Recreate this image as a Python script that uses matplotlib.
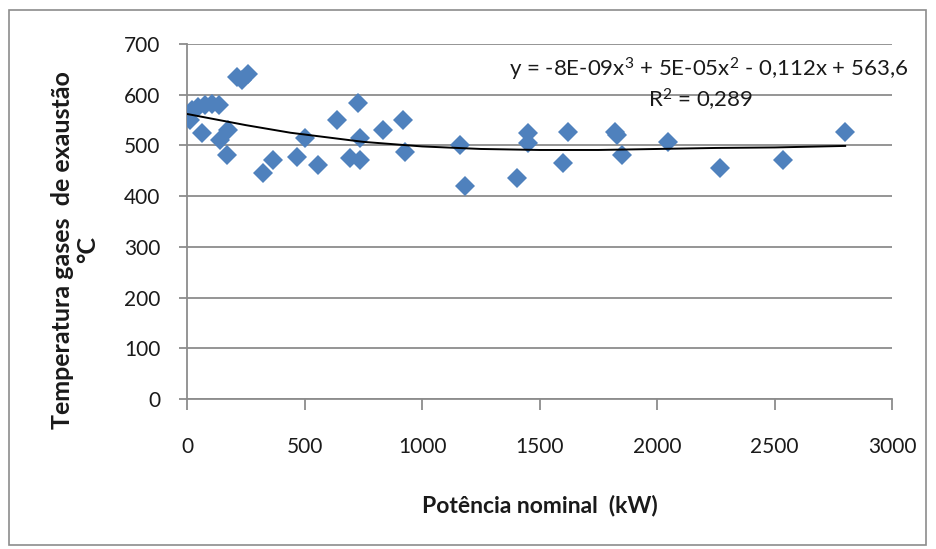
import matplotlib.pyplot as plt
from matplotlib.patches import Rectangle

plt.rcParams['font.family'] = ['Lato', 'DejaVu Sans']
plt.rcParams['mathtext.fontset'] = 'custom'
plt.rcParams['mathtext.rm'] = 'Lato'
plt.rcParams['mathtext.default'] = 'regular'

# potencia nominal (kW) e temperatura dos gases (C)
potencia = [13, 20, 45, 75, 105, 135, 62, 140, 169, 175, 211, 234, 261,
            324, 367, 467, 502, 557, 637, 694, 728, 736, 736, 834, 919, 928,
            1162, 1183, 1403, 1451, 1451, 1600, 1622, 1821, 1830, 1850, 2047,
            2268, 2536, 2800]
temperatura = [550, 570, 575, 580, 582, 580, 524, 511, 481, 530, 635, 628, 640,
               446, 471, 478, 515, 461, 550, 475, 584, 515, 471, 530, 550, 487,
               501, 420, 436, 524, 505, 465, 527, 527, 520, 481, 507,
               455, 471, 527]

# linha de tendencia polinomial
tend_x = [0, 250, 440, 750, 1000, 1250, 1500, 1750, 2000, 2250, 2500, 2800]
tend_y = [562, 540, 525, 507, 498, 493, 491, 491, 493, 495, 496, 499]

fig = plt.figure(figsize=(9.36, 5.49), dpi=100)
ax = fig.add_axes([0.1998, 0.2732, 0.7534, 0.6467])

ax.plot(potencia, temperatura, 'D', color='#4F81BD', markersize=10, markeredgewidth=0, zorder=3)
ax.plot(tend_x, tend_y, '-', color='black', linewidth=1.4, zorder=4)

ax.set_xlim(0, 3000)
ax.set_ylim(0, 700)
ax.set_xticks(range(0, 3001, 500))
ax.set_yticks(range(0, 701, 100))
ax.yaxis.grid(True, color='#8c8c8c', linewidth=1.3)
ax.set_axisbelow(True)
for s in ['top', 'right']:
    ax.spines[s].set_visible(False)
for s in ['left', 'bottom']:
    ax.spines[s].set_color('#8c8c8c')
    ax.spines[s].set_linewidth(1.3)
ax.tick_params(axis='x', length=8, width=1.3, color='#8c8c8c', pad=19, labelsize=15, labelcolor='#1a1a1a')
ax.tick_params(axis='y', length=6, width=1.3, color='#8c8c8c', pad=13, labelsize=15, labelcolor='#1a1a1a')

ax.text(1.023, 0.927, 'y = -8E-09x$^{3}$ + 5E-05x$^{2}$ - 0,112x + 563,6', transform=ax.transAxes,
        ha='right', va='center', fontsize=16, color='#1a1a1a')
ax.text(0.728, 0.842, 'R$^{2}$ = 0,289', transform=ax.transAxes,
        ha='center', va='center', fontsize=16, color='#1a1a1a')

fig.text(0.577, 0.08, 'Potência nominal  (kW)', ha='center', va='center', fontsize=16.5,
         fontweight='bold', color='#1a1a1a')
fig.text(0.08, 0.545, 'Temperatura gases  de exaustão\n°C', rotation=90, ha='center',
         va='center', multialignment='center', fontsize=18, fontweight='bold',
         color='#1a1a1a', linespacing=1.1)

fig.patches.append(Rectangle((9 / 936, 1 - 545 / 549), 917 / 936, 535 / 549,
                             transform=fig.transFigure, fill=False,
                             edgecolor='#8c8c8c', linewidth=1.2))

fig.savefig('out.png', dpi=100)
